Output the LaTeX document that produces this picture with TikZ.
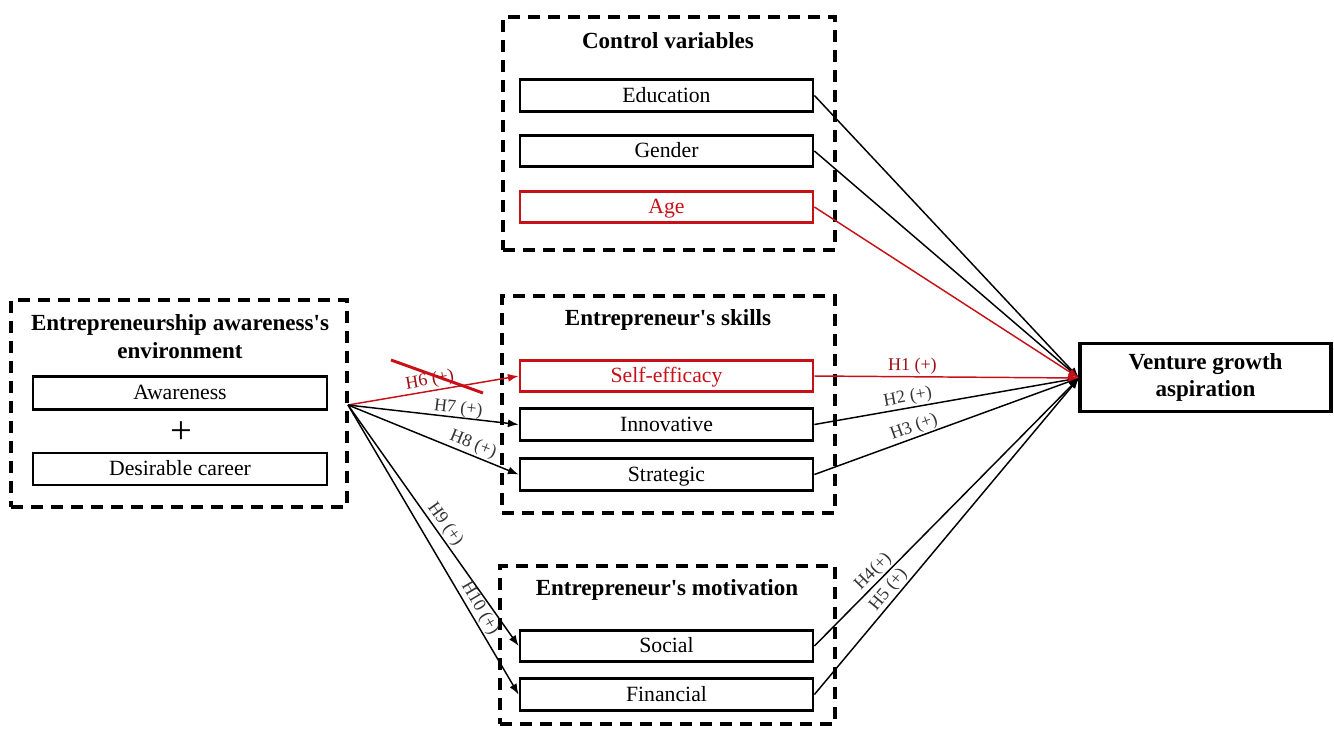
\documentclass[tikz,border=0pt]{standalone}
\usepackage{fontspec}
\setmainfont{Liberation Serif}
\usetikzlibrary{arrows.meta}
\definecolor{hred}{RGB}{200,16,24}
\tikzset{
  group/.style={draw=black, line width=2.3pt, dash pattern=on 9pt off 6pt, inner sep=0pt},
  grouptitle/.style={font=\fontsize{17.3}{21}\selectfont\bfseries, align=center, inner sep=0pt},
  item/.style={draw=black, line width=2.1pt, minimum width=219.75pt, minimum height=23.5pt, inner sep=0pt,
               text height=13.5pt, text depth=3.5pt, font=\fontsize{16.3}{18}\selectfont},
  reditem/.style={item, draw=hred, text=hred},
  conn/.style={draw=black, line width=1.1pt, -{Latex[length=8pt,width=6pt]}},
  redconn/.style={conn, draw=hred, -{Latex[length=8pt,width=6pt,fill=hred]}},
  lbl/.style={font=\fontsize{13.5}{14}\selectfont, sloped, above, inner sep=1pt, text=black!80},
  redlbl/.style={lbl, text=hred!80!black},
}
\begin{document}
\begin{tikzpicture}[x=0.75pt,y=-0.75pt]
\useasboundingbox (0,0) rectangle (1334,729);

% Control variables
\node[group, minimum width=249pt, minimum height=174.75pt] (ctrl) at (669,133.5) {};
\node[grouptitle] (ctrltitle) at (668,41) {Control variables};
\node[item] (edu) at (666.5,95.5) {Education};
\node[item] (gen) at (666.5,151) {Gender};
\node[reditem] (age) at (666.5,207) {Age};

% Entrepreneur's skills
\node[group, minimum width=249.75pt, minimum height=162.75pt] (skills) at (668.5,404.5) {};
\node[grouptitle] (skillstitle) at (668,320) {Entrepreneur\textquotesingle s skills};
\node[reditem] (self) at (666.5,376) {Self-efficacy};
\node[item] (inno) at (666.5,424.5) {Innovative};
\node[item] (strat) at (666.5,474.5) {Strategic};

% Entrepreneur's motivation
\node[group, minimum width=251.25pt, minimum height=118.5pt] (motiv) at (667.5,645) {};
\node[grouptitle] (motivtitle) at (667,590) {Entrepreneur\textquotesingle s motivation};
\node[item] (soc) at (666.5,646) {Social};
\node[item] (fin) at (666.5,694.5) {Financial};

% Awareness environment
\node[group, minimum width=252pt, minimum height=155.25pt] (env) at (179,403.5) {};
\node[grouptitle] (envtitle) at (180,337) {Entrepreneurship awareness\textquotesingle s\\environment};
\node[item, minimum width=220.5pt, minimum height=25pt] (aware) at (180,393) {Awareness};
\node[font=\fontsize{29}{29}\selectfont, inner sep=0pt] (plus) at (181,433) {+};
\node[item, minimum width=220.5pt, minimum height=24pt] (desire) at (180,469) {Desirable career};

% Outcome
\node[draw=black, line width=2.3pt, minimum width=188.25pt, minimum height=51pt, align=center,
      font=\fontsize{17.3}{20.5}\selectfont\bfseries, inner sep=0pt] (vga) at (1205.5,377.5) {Venture growth\\aspiration};

\coordinate (src) at (348,405);
\coordinate (tgt) at (1079,378);

% Paths from the environment
\draw[redconn] (src) -- node[redlbl, pos=0.49]{H6 (+)} (self.west);
\draw[conn] (src) -- node[lbl, pos=0.64, inner sep=0pt]{H7 (+)} (inno.west);
\draw[conn] (src) -- node[lbl, pos=0.71]{H8 (+)} (strat.west);
\draw[conn] (src) -- node[lbl, pos=0.52]{H9 (+)} (soc.west);
\draw[conn] (src) -- node[lbl, pos=0.72]{H10 (+)} (fin.west);

% Paths to venture growth aspiration
\draw[conn] (edu.east) -- (tgt);
\draw[conn] (gen.east) -- (tgt);
\draw[conn] (inno.east) -- node[lbl, pos=0.36]{H2 (+)} (tgt);
\draw[conn] (strat.east) -- node[lbl, pos=0.39]{H3 (+)} (tgt);
\draw[conn] (soc.east) -- node[lbl, pos=0.25]{H4(+)} (tgt);
\draw[conn] (fin.east) -- node[lbl, pos=0.31]{H5 (+)} (tgt);
\draw[redconn] (age.east) -- (tgt);
\draw[redconn] (self.east) -- node[redlbl, pos=0.37]{H1 (+)} (tgt);

% Struck-out hypothesis
\coordinate (strikeA) at (391,360);
\coordinate (strikeB) at (483,393);
\draw[hred, line width=2.2pt] (strikeA) -- (strikeB);
\end{tikzpicture}
\end{document}
